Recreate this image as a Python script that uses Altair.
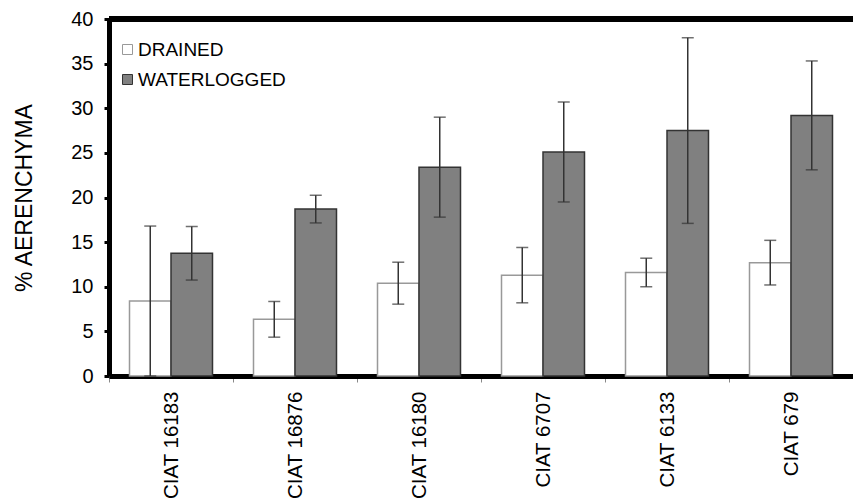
import altair as alt
import pandas as pd

# Aerenchyma formation (% of root cross-section) per cultivar and treatment
cultivars = ["CIAT 16183", "CIAT 16876", "CIAT 16180", "CIAT 6707", "CIAT 6133", "CIAT 679"]
treatments = ["DRAINED", "WATERLOGGED"]
drained = [8.4, 6.35, 10.4, 11.3, 11.6, 12.7]
drained_err = [8.4, 2.0, 2.35, 3.1, 1.6, 2.5]
waterlogged = [13.75, 18.7, 23.4, 25.1, 27.5, 29.2]
waterlogged_err = [3.0, 1.55, 5.6, 5.6, 10.4, 6.1]

rows = []
for c, v, e in zip(cultivars, drained, drained_err):
    rows.append({"cultivar": c, "treatment": "DRAINED", "value": v, "lo": v - e, "hi": v + e})
for c, v, e in zip(cultivars, waterlogged, waterlogged_err):
    rows.append({"cultivar": c, "treatment": "WATERLOGGED", "value": v, "lo": v - e, "hi": v + e})
df = pd.DataFrame(rows)

FONT = "Liberation Sans"

x_enc = alt.X(
    "cultivar:N",
    sort=cultivars,
    title=None,
    scale=alt.Scale(paddingInner=0, paddingOuter=0),
    axis=alt.Axis(
        labelAngle=-90,
        labelFontSize=20.5,
        labelColor="black",
        labelPadding=9,
        tickBand="extent",
        tickSize=6,
        tickColor="#888888",
        tickWidth=1,
        domainColor="black",
        domainWidth=5,
    ),
)
offset_enc = alt.XOffset(
    "treatment:N",
    sort=treatments,
    scale=alt.Scale(paddingInner=0, paddingOuter=0.494),
)
y_scale = alt.Scale(domain=[0, 40], nice=False)

legend_def = alt.Legend(
    title=None,
    orient="none",
    legendX=9,
    legendY=21,
    symbolType="square",
    symbolSize=100,
    symbolStrokeWidth=1,
    labelFontSize=19,
    labelColor="black",
    labelOffset=1,
    rowPadding=10,
)

bars = alt.Chart(df).mark_bar(strokeWidth=1.5).encode(
    x=x_enc,
    xOffset=offset_enc,
    y=alt.Y(
        "value:Q",
        scale=y_scale,
        title="% AERENCHYMA",
        axis=alt.Axis(
            values=[0, 5, 10, 15, 20, 25, 30, 35, 40],
            grid=False,
            labelFontSize=20,
            labelColor="black",
            labelPadding=11,
            tickSize=5,
            tickWidth=3,
            tickColor="black",
            domainColor="black",
            domainWidth=5,
            titleFontSize=23,
            titleFontWeight="normal",
            titleColor="black",
            titlePadding=34,
        ),
    ),
    fill=alt.Fill(
        "treatment:N",
        sort=treatments,
        scale=alt.Scale(domain=treatments, range=["white", "#808080"]),
        legend=legend_def,
    ),
    stroke=alt.Stroke(
        "treatment:N",
        sort=treatments,
        scale=alt.Scale(domain=treatments, range=["#999999", "#333333"]),
        legend=legend_def,
    ),
)

whiskers = alt.Chart(df).mark_rule(color="#333333", strokeWidth=1.5).encode(
    x=alt.X("cultivar:N", sort=cultivars),
    xOffset=offset_enc,
    y=alt.Y("lo:Q", scale=y_scale),
    y2="hi:Q",
)

caps_hi = alt.Chart(df).mark_tick(color="#333333", thickness=1.5, size=12, orient="horizontal").encode(
    x=alt.X("cultivar:N", sort=cultivars),
    xOffset=offset_enc,
    y=alt.Y("hi:Q", scale=y_scale),
)
caps_lo = alt.Chart(df).mark_tick(color="#333333", thickness=1.5, size=12, orient="horizontal").encode(
    x=alt.X("cultivar:N", sort=cultivars),
    xOffset=offset_enc,
    y=alt.Y("lo:Q", scale=y_scale),
)

# Heavy frame line along the top of the plot area
top_line = alt.Chart(df).mark_rule(color="black", strokeWidth=5).encode(
    y=alt.datum(40, scale=y_scale),
)

chart = (
    alt.layer(bars, whiskers, caps_hi, caps_lo, top_line)
    .properties(
        width=744,
        height=357,
        autosize=alt.AutoSizeParams(type="none"),
        padding={"left": 109, "top": 19, "right": 0, "bottom": 126},
    )
    .configure(font=FONT)
    .configure_view(stroke=None)
    .configure_axis(labelFont=FONT, titleFont=FONT)
    .configure_legend(labelFont=FONT)
)

chart.save("out.html", embed_options={"renderer": "svg", "actions": False})
